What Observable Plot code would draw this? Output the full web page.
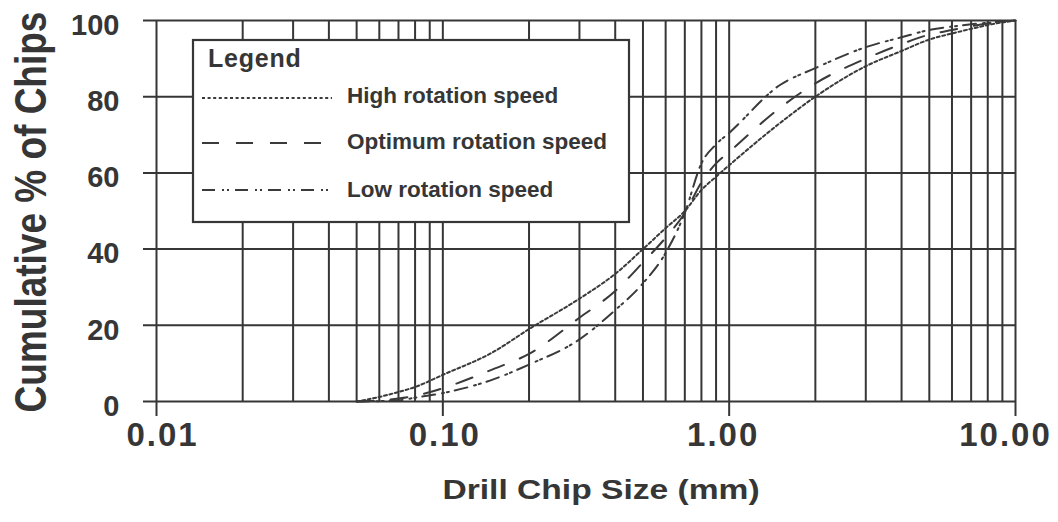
<!DOCTYPE html>
<html>
<head>
<meta charset="utf-8">
<script src="https://cdn.jsdelivr.net/npm/d3@7"></script>
<script src="https://cdn.jsdelivr.net/npm/@observablehq/plot@0.6"></script>
<style>
  html, body { margin: 0; padding: 0; background: #fff; }
  #chart { width: 1058px; height: 522px; }
</style>
</head>
<body>
<div id="chart"></div>
<script>
// ---- data ----
const sizes   = [0.05, 0.06, 0.07, 0.08, 0.1, 0.15, 0.2, 0.3, 0.4, 0.5, 0.6, 0.7, 0.8, 0.9, 1.0, 1.5, 2, 3, 4, 5, 6, 7, 8, 10];
const highSpeed    = [0, 1.2, 2.5, 3.8, 7.0, 13.0, 19.0, 27.0, 33.5, 40.0, 45.5, 50.0, 55.5, 59.0, 62.0, 73.0, 80.0, 88.0, 92.0, 95.0, 96.6, 97.8, 98.8, 100];
const optimumSpeed = [0, 0.3, 0.8, 1.5, 3.5, 8.5, 12.5, 22.0, 29.0, 36.5, 43.0, 49.5, 57.5, 62.5, 65.5, 77.0, 83.5, 90.0, 93.8, 96.3, 97.5, 98.5, 99.2, 100];
const lowSpeed     = [0, 0.1, 0.3, 1.0, 2.2, 5.8, 9.7, 16.3, 24.0, 31.0, 39.0, 49.5, 62.5, 67.5, 70.5, 83.0, 87.5, 93.0, 95.6, 97.5, 98.4, 99.0, 99.4, 100];

const seriesNames = ["High rotation speed", "Optimum rotation speed", "Low rotation speed"];
const xTicks = [0.01, 0.1, 1, 10];
const xTickLabels = ["0.01", "0.10", "1.00", "10.00"];
const yTicks = [0, 20, 40, 60, 80, 100];
const gridX = [0.01,0.02,0.03,0.04,0.05,0.06,0.07,0.08,0.09,
               0.1,0.2,0.3,0.4,0.5,0.6,0.7,0.8,0.9,
               1,2,3,4,5,6,7,8,9,10];
const yTitle = "Cumulative % of Chips";
const xTitle = "Drill Chip Size (mm)";
const legendTitle = "Legend";

// ---- styles ----
const ink = "#363636";
const dashes = ["3,2.6", "17,17", "13,7,2,3,2,6"];
const FONT = "'Liberation Sans', Arial, Helvetica, sans-serif";
const xLabelNudge = [6, 2, -6, -10];

const seriesValues = [highSpeed, optimumSpeed, lowSpeed];
const rows = [];
seriesNames.forEach((name, i) => {
  sizes.forEach((s, j) => rows.push({series: name, size: s, pct: seriesValues[i][j]}));
});

const lineMarks = seriesNames.map((name, i) =>
  Plot.line(rows.filter(d => d.series === name), {
    x: "size", y: "pct", curve: "monotone-x",
    stroke: "#3a3a3a", strokeWidth: 2, strokeDasharray: dashes[i]
  })
);

const chart = Plot.plot({
  width: 1058,
  height: 522,
  marginLeft: 156,
  marginRight: 43,
  marginTop: 20,
  marginBottom: 121,
  style: { fontFamily: FONT, fontWeight: "bold", color: ink, background: "white" },
  x: { type: "log", domain: [0.01, 10] },
  y: { domain: [0, 100] },
  marks: [
    Plot.ruleX(gridX, { stroke: ink, strokeWidth: 2 }),
    Plot.ruleY(yTicks, { stroke: ink, strokeWidth: 2, insetLeft: -13 }),
    Plot.axisY(yTicks, { tickSize: 0, tickPadding: 37, fontSize: 29, dy: 5, label: null, fill: ink }),
    Plot.axisX(xTicks, { tickSize: 15, tickPadding: 6, fontSize: 33, label: null, stroke: ink, strokeWidth: 2, fill: ink,
                         tickFormat: d => xTickLabels[xTicks.indexOf(d)] }),
    ...lineMarks,
    Plot.text([yTitle], { frameAnchor: "left", textAnchor: "middle", dx: -125, dy: 1, rotate: -90, fontSize: 37, fontWeight: "bold", fill: ink }),
    Plot.text([xTitle], { frameAnchor: "bottom", dx: 15, dy: 97, fontSize: 28, fontWeight: "bold", fill: ink })
  ]
});

document.getElementById("chart").appendChild(chart);

const svg = d3.select(chart);
// x tick labels are letter-spaced and slightly offset in the reference
svg.selectAll("g[aria-label='x-axis tick label'] text").each(function(d, i) {
  const t = d3.select(this);
  t.style("letter-spacing", "2px");
  t.attr("transform", (t.attr("transform") || "") + ` translate(${xLabelNudge[i] || 0},0)`);
});
// stretch the axis titles horizontally, as in the reference
svg.selectAll("text").each(function() {
  const t = d3.select(this);
  const txt = this.textContent;
  if (txt === yTitle) t.attr("transform", (t.attr("transform") || "") + " scale(1,1.19)");
  if (txt === xTitle) t.attr("transform", (t.attr("transform") || "") + " scale(1.2,1)");
});

// ---- legend box drawn inside the plot ----
const lg = svg.append("g").attr("font-family", FONT).attr("font-weight", "bold")
  .attr("fill", ink).attr("text-anchor", "start");
lg.append("rect").attr("x", 193).attr("y", 40).attr("width", 436).attr("height", 182)
  .attr("fill", "white").attr("stroke", ink).attr("stroke-width", 2.2);
lg.append("text").attr("x", 208).attr("y", 67).attr("font-size", 25)
  .style("letter-spacing", "0.8px").text(legendTitle);
const legendY = [98, 143, 190];
const legendBase = [103, 149, 197];
seriesNames.forEach((name, i) => {
  lg.append("line").attr("x1", 202).attr("x2", 332).attr("y1", legendY[i]).attr("y2", legendY[i])
    .attr("stroke", "#3a3a3a").attr("stroke-width", 2).attr("stroke-dasharray", dashes[i]);
  lg.append("text").attr("x", 347).attr("y", legendBase[i]).attr("font-size", 22.5).text(name);
});
</script>
</body>
</html>
